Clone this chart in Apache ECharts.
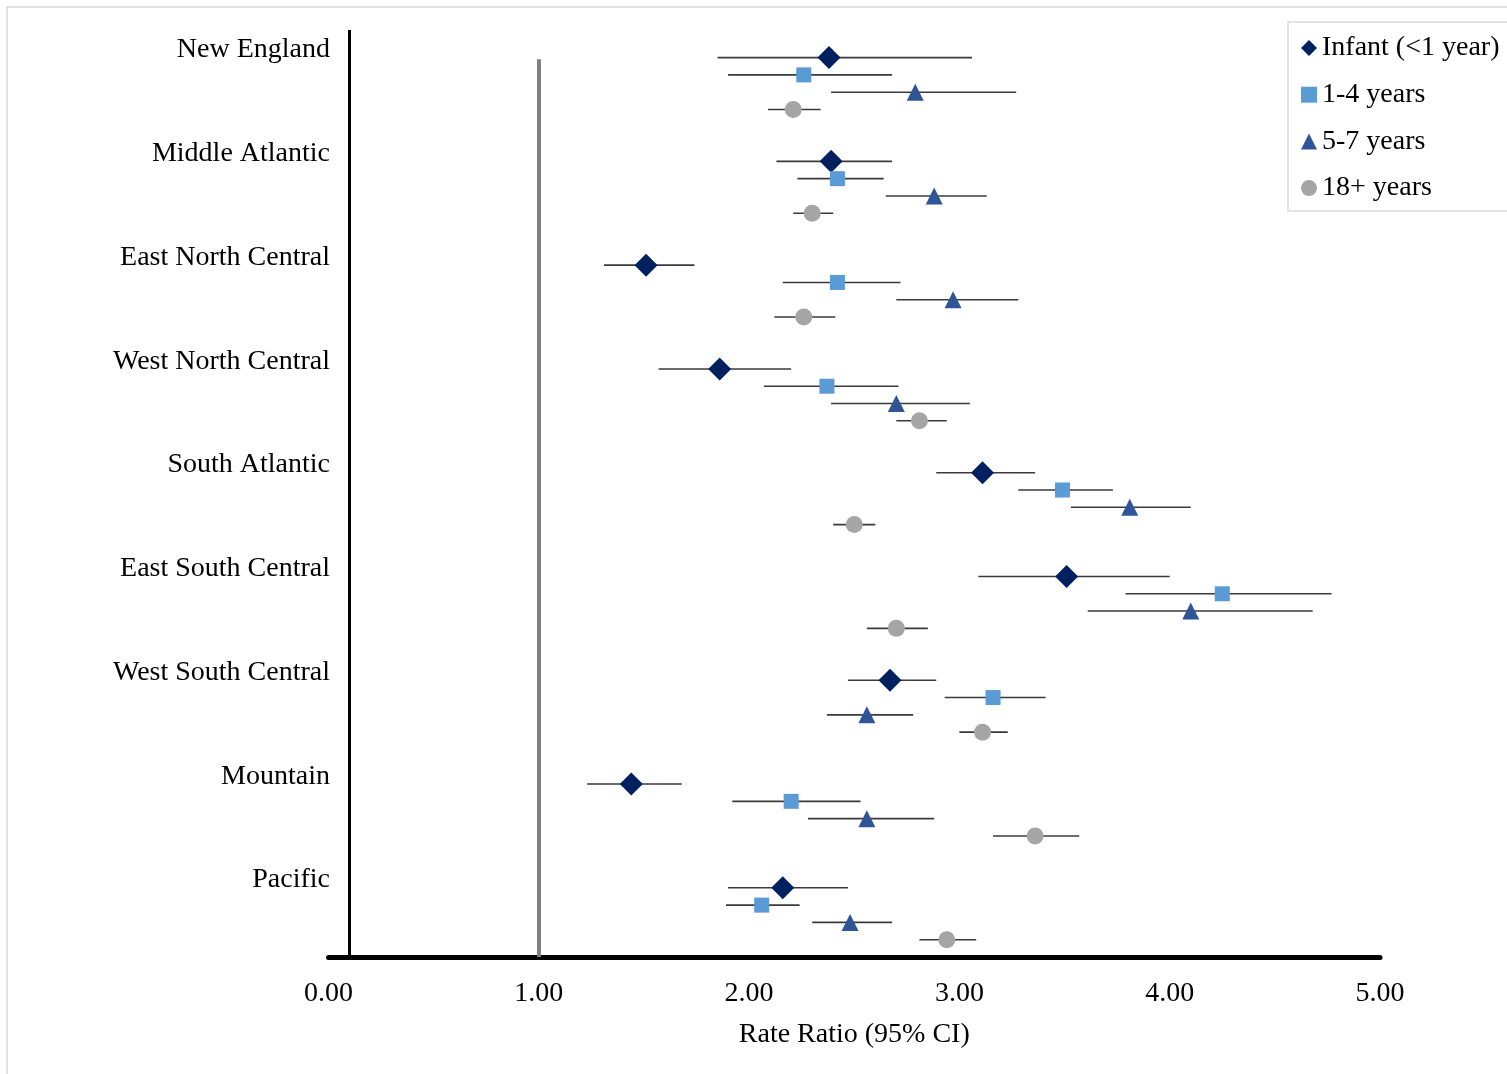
<!DOCTYPE html>
<html>
<head>
<meta charset="utf-8">
<script src="https://cdn.jsdelivr.net/npm/echarts@6/dist/echarts.min.js"></script>
<style>
html,body{margin:0;padding:0;background:#fff;}
#chart{width:1507px;height:1074px;}
</style>
</head>
<body>
<div id="chart"></div>
<script>
// ---- Data ----
const regions = ['New England','Middle Atlantic','East North Central','West North Central','South Atlantic','East South Central','West South Central','Mountain','Pacific'];
const seriesNames = ['Infant (<1 year)','1-4 years','5-7 years','18+ years'];

const infantRR = [2.38, 2.39, 1.51, 1.86, 3.11, 3.51, 2.67, 1.44, 2.16];
const infantLo = [1.85, 2.13, 1.31, 1.57, 2.89, 3.09, 2.47, 1.23, 1.90];
const infantHi = [3.06, 2.68, 1.74, 2.20, 3.36, 4.00, 2.89, 1.68, 2.47];

const age1to4RR = [2.26, 2.42, 2.42, 2.37, 3.49, 4.25, 3.16, 2.20, 2.06];
const age1to4Lo = [1.90, 2.23, 2.16, 2.07, 3.28, 3.79, 2.93, 1.92, 1.89];
const age1to4Hi = [2.68, 2.64, 2.72, 2.71, 3.73, 4.77, 3.41, 2.53, 2.24];

const age5to7RR = [2.79, 2.88, 2.97, 2.70, 3.81, 4.10, 2.56, 2.56, 2.48];
const age5to7Lo = [2.39, 2.65, 2.70, 2.39, 3.53, 3.61, 2.37, 2.28, 2.30];
const age5to7Hi = [3.27, 3.13, 3.28, 3.05, 4.10, 4.68, 2.78, 2.88, 2.68];

const adultRR = [2.21, 2.30, 2.26, 2.81, 2.50, 2.70, 3.11, 3.36, 2.94];
const adultLo = [2.09, 2.21, 2.12, 2.70, 2.40, 2.56, 3.00, 3.16, 2.81];
const adultHi = [2.34, 2.40, 2.41, 2.94, 2.60, 2.85, 3.23, 3.57, 3.08];

const xTicks = [0, 1, 2, 3, 4, 5];
const referenceRR = 1.0;

// ---- Layout / style ----
const FONT = "'Liberation Serif','Times New Roman',serif";
const ROW_TOP = 52, GROUP_STEP = 6; // row index layout on hidden y scale
const groups = [
  {rr: infantRR, lo: infantLo, hi: infantHi, symbol: 'diamond', size: 23, color: '#002060'},
  {rr: age1to4RR, lo: age1to4Lo, hi: age1to4Hi, symbol: 'rect', size: 15, color: '#5b9bd5'},
  {rr: age5to7RR, lo: age5to7Lo, hi: age5to7Hi, symbol: 'triangle', size: 17, color: '#2f5597'},
  {rr: adultRR, lo: adultLo, hi: adultHi, symbol: 'circle', size: 17, color: '#a5a5a5'}
];
function rowY(i, k){ return ROW_TOP - GROUP_STEP * i - k; }

const errData = [];
groups.forEach((g, k) => {
  regions.forEach((r, i) => errData.push([g.lo[i], g.hi[i], rowY(i, k)]));
});

const series = [];
series.push({
  type: 'custom',
  name: 'ci',
  silent: true,
  z: 1,
  data: errData,
  encode: {x: [0, 1], y: 2},
  renderItem: function(params, api){
    const p1 = api.coord([api.value(0), api.value(2)]);
    const p2 = api.coord([api.value(1), api.value(2)]);
    return {type: 'line', shape: {x1: p1[0], y1: p1[1], x2: p2[0], y2: p2[1]},
      style: {stroke: '#3a3a3a', lineWidth: 1.6}};
  },
  markLine: {
    silent: true, symbol: 'none', label: {show: false}, animation: false,
    data: [
      [{coord: [0.1, 0], lineStyle: {color: '#000', width: 3, type: 'solid'}}, {coord: [0.1, 53.6]}],
      [{coord: [referenceRR, 0], lineStyle: {color: '#808080', width: 4, type: 'solid'}}, {coord: [referenceRR, 51.9]}]
    ]
  }
});
groups.forEach((g, k) => {
  series.push({
    type: 'scatter',
    name: seriesNames[k],
    symbol: g.symbol,
    symbolSize: g.size,
    z: 3,
    itemStyle: {color: g.color, opacity: 1},
    data: regions.map((r, i) => [g.rr[i], rowY(i, k)])
  });
});
series.push({
  type: 'scatter',
  name: 'labels',
  symbolSize: 0,
  silent: true,
  z: 4,
  itemStyle: {opacity: 1, color: '#000'},
  data: regions.map((r, i) => [0, rowY(i, 0) + 0.45, r]),
  label: {
    show: true, position: 'left', distance: -1.5,
    formatter: p => p.data[2],
    color: '#000', opacity: 1, fontFamily: FONT, fontSize: 28
  }
});

const chart = echarts.init(document.getElementById('chart'), null, {renderer: 'canvas'});
chart.setOption({
  animation: false,
  backgroundColor: '#fff',
  grid: {left: 328.5, right: 127, top: 23, bottom: 117, containLabel: false},
  xAxis: {
    type: 'value', min: xTicks[0], max: xTicks[xTicks.length - 1], interval: 1,
    axisLine: {show: true, onZero: false, lineStyle: {color: '#000', width: 5}},
    axisTick: {show: false},
    splitLine: {show: false},
    axisLabel: {
      margin: 23, color: '#000', fontFamily: FONT, fontSize: 28,
      formatter: v => v.toFixed(2)
    },
    name: 'Rate Ratio (95% CI)',
    nameLocation: 'middle',
    nameGap: 64,
    nameTextStyle: {color: '#000', fontFamily: FONT, fontSize: 28}
  },
  yAxis: {
    type: 'value', min: 0, max: 54, show: false
  },
  legend: {
    data: seriesNames,
    orient: 'vertical',
    left: 1288, top: 22,
    padding: [12, 40, 9, 13],
    itemWidth: 16, itemHeight: 16, itemGap: 18.7,
    borderColor: '#d9d9d9', borderWidth: 1.5,
    backgroundColor: '#fff',
    textStyle: {color: '#000', fontFamily: FONT, fontSize: 28, lineHeight: 28, padding: [0,0,0,0]}
  },
  graphic: [{
    type: 'rect', silent: true, z: -10,
    shape: {x: 7, y: 7, width: 1700, height: 1300},
    style: {fill: 'none', stroke: '#d9d9d9', lineWidth: 1.5}
  }],
  series: series
});
</script>
</body>
</html>
